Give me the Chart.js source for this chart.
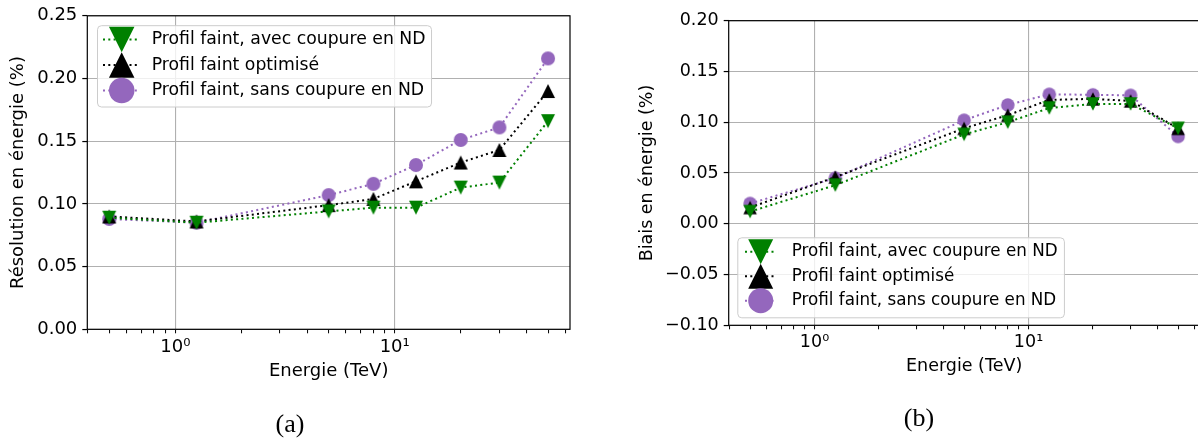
<!DOCTYPE html>
<html>
<head>
<meta charset="utf-8">
<script src="https://cdn.jsdelivr.net/npm/chart.js@4.4.1/dist/chart.umd.min.js"></script>
<style>
  html, body { margin: 0; padding: 0; background: #fff; overflow: hidden; width: 1198px; height: 439px; }
  .panel { position: absolute; top: 0; }
  .caption { position: absolute; font-family: 'Liberation Serif', 'DejaVu Serif', serif; font-size: 26px; line-height: 1; transform: translate(-50%, -50%); color: #000; }
</style>
</head>
<body>
<canvas id="resolution" class="panel" width="600" height="439" style="left:0"></canvas>
<canvas id="biais" class="panel" width="600" height="439" style="left:600px"></canvas>
<div class="caption" style="left:290px;top:424px">(a)</div>
<div class="caption" style="left:919px;top:418px">(b)</div>
<script>
// energies (TeV)
const energies = [0.5, 1.25, 5, 8, 12.5, 20, 30, 50];

// resolution en energie (a)
const resAvec = [0.089, 0.085, 0.094, 0.097, 0.097, 0.113, 0.117, 0.166];
const resOpt  = [0.090, 0.086, 0.099, 0.104, 0.118, 0.133, 0.143, 0.190];
const resSans = [0.088, 0.085, 0.107, 0.116, 0.131, 0.151, 0.161, 0.216];

// biais en energie (b)
const biaisAvec = [0.012, 0.038, 0.088, 0.100, 0.114, 0.118, 0.118, 0.094];
const biaisOpt  = [0.016, 0.046, 0.094, 0.107, 0.122, 0.123, 0.121, 0.094];
const biaisSans = [0.020, 0.045, 0.102, 0.117, 0.1275, 0.127, 0.1265, 0.086];

const seriesLabels = ['Profil faint, avec coupure en ND', 'Profil faint optimisé', 'Profil faint, sans coupure en ND'];

// ticks
const resTicks = [0, 0.05, 0.10, 0.15, 0.20, 0.25];
const biaisTicks = [-0.10, -0.05, 0, 0.05, 0.10, 0.15, 0.20];
const xTicks = [0.4, 0.5, 0.6, 0.7, 0.8, 0.9, 1, 2, 3, 4, 5, 6, 7, 8, 9, 10, 20, 30, 40, 50, 60];
const xMajor = [1, 10];
const xMajorLabels = ['10\u2070', '10\u00b9'];

Chart.defaults.font.family = "'DejaVu Sans', sans-serif";
Chart.defaults.color = '#000';

function drawMarker(ctx, shape, cx, cy, size, color) {
  const h = size / 2;
  ctx.fillStyle = color;
  ctx.beginPath();
  if (shape === 'down') {
    ctx.moveTo(cx - h, cy - h); ctx.lineTo(cx + h, cy - h); ctx.lineTo(cx, cy + h);
  } else if (shape === 'up') {
    ctx.moveTo(cx - h, cy + h); ctx.lineTo(cx + h, cy + h); ctx.lineTo(cx, cy - h);
  } else {
    ctx.arc(cx, cy, h, 0, Math.PI * 2);
  }
  ctx.closePath();
  ctx.fill();
}

function markerImage(shape, size, color) {
  const c = document.createElement('canvas');
  c.width = c.height = Math.ceil(size) + 2;
  drawMarker(c.getContext('2d'), shape, c.width / 2, c.height / 2, size, color);
  return c;
}

function serie(xs, ys, label, color, shape, size) {
  return {
    label: label,
    shape: shape,
    data: xs.map((x, i) => ({ x: x, y: ys[i] })),
    showLine: true,
    borderColor: color,
    backgroundColor: color,
    borderWidth: 2,
    borderDash: [2, 3.3],
    borderCapStyle: 'butt',
    pointStyle: markerImage(shape, size, color),
    pointRadius: size / 2,
    pointHoverRadius: size / 2,
    fill: false,
    tension: 0
  };
}

// cadre noir autour de la zone du graphe
const frame = {
  id: 'frame',
  afterDatasetsDraw(chart) {
    const { ctx, chartArea: a } = chart;
    ctx.save();
    ctx.strokeStyle = '#000';
    ctx.lineWidth = 1.2;
    ctx.strokeRect(a.left, a.top, a.right - a.left, a.bottom - a.top);
    ctx.restore();
  }
};

// legende a la matplotlib
const boxLegend = {
  id: 'boxLegend',
  afterDatasetsDraw(chart, args, o) {
    const { ctx, chartArea: a } = chart;
    const ds = chart.data.datasets;
    ctx.save();
    ctx.font = o.fontSize + "px 'DejaVu Sans'";
    const textW = Math.max(...ds.map(d => ctx.measureText(d.label).width));
    const w = o.textX + textW + o.padRight;
    const x0 = a.left + o.dx;
    const y0 = o.fromBottom ? a.bottom - o.dy - o.h : a.top + o.dy;
    ctx.beginPath();
    if (ctx.roundRect) ctx.roundRect(x0 + 0.5, y0 + 0.5, w, o.h, 4);
    else ctx.rect(x0 + 0.5, y0 + 0.5, w, o.h);
    ctx.fillStyle = 'rgba(255,255,255,0.8)';
    ctx.fill();
    ctx.strokeStyle = '#cccccc';
    ctx.lineWidth = 1;
    ctx.stroke();
    ds.forEach((d, i) => {
      const cy = y0 + o.row0 + i * o.rowH;
      ctx.setLineDash(d.borderDash);
      ctx.lineWidth = d.borderWidth;
      ctx.strokeStyle = d.borderColor;
      ctx.beginPath();
      ctx.moveTo(x0 + o.lineX0, cy);
      ctx.lineTo(x0 + o.lineX1, cy);
      ctx.stroke();
      ctx.setLineDash([]);
      drawMarker(ctx, d.shape, x0 + o.markerX, cy, o.markerSize, d.borderColor);
      ctx.fillStyle = '#000';
      ctx.textBaseline = 'middle';
      ctx.textAlign = 'left';
      ctx.fillText(d.label, x0 + o.textX, cy);
    });
    ctx.restore();
  }
};

function xScale(size, height) {
  return {
    type: 'logarithmic',
    min: 0.3972,
    max: 62.95,
    afterBuildTicks: s => { s.ticks = xTicks.map(v => ({ value: v })); },
    afterFit: s => { s.height = height; s.paddingLeft = 0; s.paddingRight = 0; },
    ticks: {
      autoSkip: false,
      maxRotation: 0,
      minRotation: 0,
      padding: 3,
      color: '#000',
      font: { size: size },
      callback: v => {
        const k = xMajor.indexOf(v);
        return k >= 0 ? xMajorLabels[k] : '';
      }
    },
    grid: {
      color: c => (c.tick && xMajor.indexOf(c.tick.value) >= 0) ? '#b0b0b0' : 'rgba(0,0,0,0)',
      lineWidth: 1.1,
      tickColor: '#000',
      tickLength: 4,
      tickWidth: 1
    },
    border: { display: false },
    title: { display: true, text: 'Energie (TeV)', color: '#000', font: { size: size }, padding: { top: 4, bottom: 4 } }
  };
}

function yScale(min, max, tickVals, size, width, title) {
  return {
    type: 'linear',
    min: min,
    max: max,
    afterBuildTicks: s => { s.ticks = tickVals.map(v => ({ value: v })); },
    afterFit: s => { s.width = width; },
    ticks: {
      padding: 5,
      color: '#000',
      font: { size: size },
      callback: v => v.toFixed(2).replace('-', '\u2212')
    },
    grid: { color: '#b0b0b0', lineWidth: 1.1, tickColor: '#000', tickLength: 5, tickWidth: 1.2 },
    border: { display: false },
    title: { display: true, text: title, color: '#000', font: { size: size }, padding: { top: 4, bottom: 4 } }
  };
}

// graphe (a) resolution
new Chart(document.getElementById('resolution'), {
  type: 'scatter',
  data: {
    datasets: [
      serie(energies, resAvec, seriesLabels[0], 'green', 'down', 14),
      serie(energies, resOpt, seriesLabels[1], '#000000', 'up', 14),
      serie(energies, resSans, seriesLabels[2], '#9467bd', 'circle', 14)
    ]
  },
  options: {
    responsive: false,
    animation: false,
    devicePixelRatio: 1,
    layout: { autoPadding: false, padding: { top: 15.3, left: 3.9, right: 30, bottom: 53 } },
    scales: {
      x: xScale(18, 56.7),
      y: yScale(0, 0.25, resTicks, 18, 83.4, 'Résolution en énergie (%)')
    },
    plugins: {
      legend: { display: false },
      tooltip: { enabled: false },
      boxLegend: { fontSize: 17.25, dx: 9.7, dy: 9.4, h: 81.3, row0: 14.4, rowH: 25.5, markerX: 24.7, lineX0: 6, lineX1: 41, textX: 54.7, markerSize: 25.5, padRight: 5.5, fromBottom: false }
    }
  },
  plugins: [frame, boxLegend]
});

// graphe (b) biais
new Chart(document.getElementById('biais'), {
  type: 'scatter',
  data: {
    datasets: [
      serie(energies, biaisAvec, seriesLabels[0], 'green', 'down', 13.5),
      serie(energies, biaisOpt, seriesLabels[1], '#000000', 'up', 13.5),
      serie(energies, biaisSans, seriesLabels[2], '#9467bd', 'circle', 13.5)
    ]
  },
  options: {
    responsive: false,
    animation: false,
    devicePixelRatio: 1,
    layout: { autoPadding: false, padding: { top: 20.7, left: 32.5, right: 0.5, bottom: 57.8 } },
    scales: {
      x: xScale(17.5, 55.9),
      y: yScale(-0.10, 0.20, biaisTicks, 17.5, 96.2, 'Biais en énergie (%)')
    },
    plugins: {
      legend: { display: false },
      tooltip: { enabled: false },
      boxLegend: { fontSize: 16.75, dx: 8.6, dy: 8, h: 80, row0: 14.4, rowH: 24.5, markerX: 23.4, lineX0: 7.7, lineX1: 39.4, textX: 54.4, markerSize: 25, padRight: 6.3, fromBottom: true }
    }
  },
  plugins: [frame, boxLegend]
});
</script>
</body>
</html>
